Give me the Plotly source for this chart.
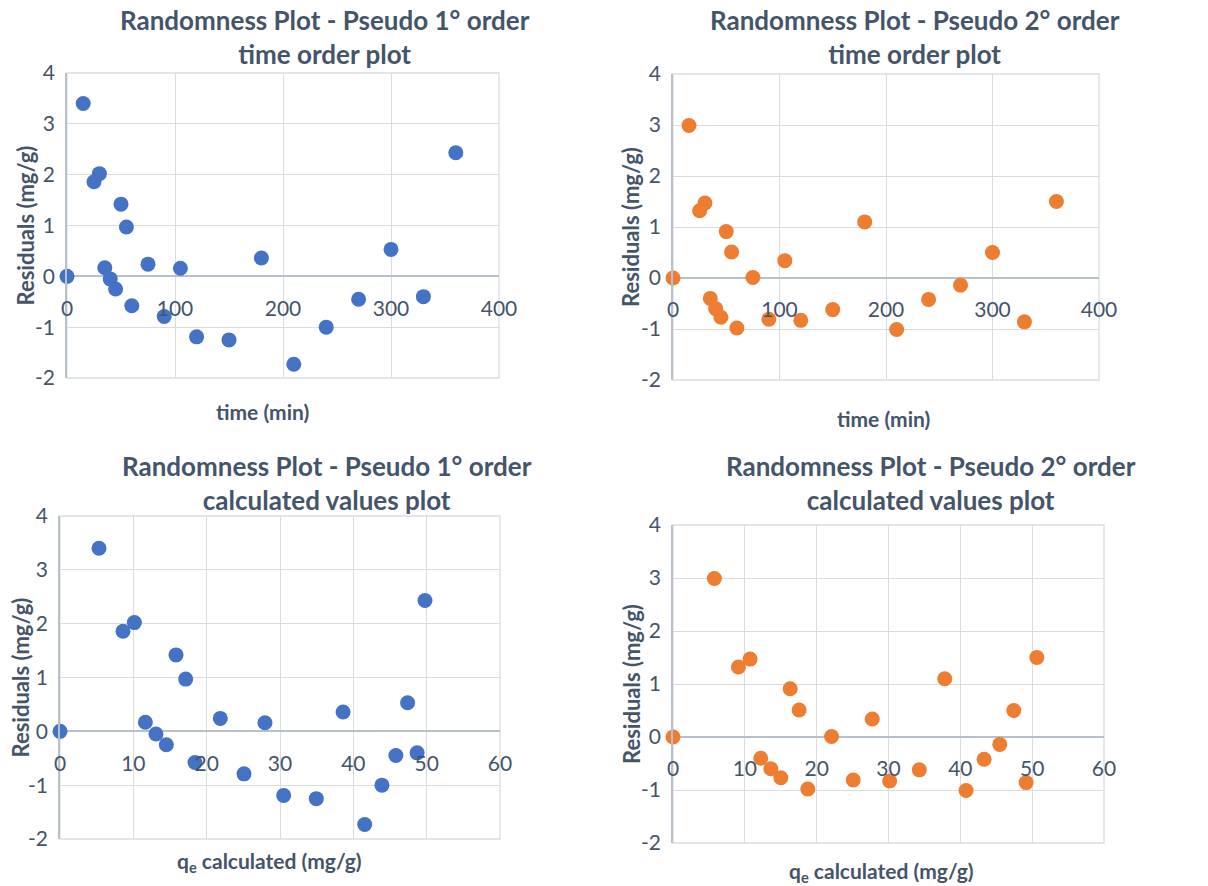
import plotly.graph_objects as go

# Sampling times (min)
time_min = [0, 15, 25, 30, 35, 40, 45, 50, 55, 60, 75, 90, 105, 120, 150,
            180, 210, 240, 270, 300, 330, 360]

# Residuals (mg/g) for each kinetic model
resid_pfo = [0, 3.40, 1.86, 2.02, 0.17, -0.05, -0.25, 1.42, 0.97, -0.58, 0.24,
             -0.79, 0.16, -1.19, -1.25, 0.36, -1.73, -1.00, -0.45, 0.53, -0.40, 2.43]
resid_pso = [0, 2.99, 1.32, 1.47, -0.40, -0.60, -0.77, 0.91, 0.51, -0.98, 0.01,
             -0.81, 0.34, -0.83, -0.62, 1.10, -1.01, -0.42, -0.14, 0.50, -0.86, 1.50]

# Calculated uptake q_e (mg/g) for each model
qcalc_pfo = [0, 5.32, 8.59, 10.14, 11.64, 13.09, 14.50, 15.82, 17.14, 18.41, 21.86,
             25.09, 27.95, 30.50, 34.95, 38.60, 41.55, 43.90, 45.80, 47.40, 48.70, 49.77]
qcalc_pso = [0, 5.76, 9.11, 10.73, 12.22, 13.62, 15.01, 16.31, 17.56, 18.77, 22.07,
             25.09, 27.74, 30.16, 34.29, 37.83, 40.80, 43.31, 45.49, 47.44, 49.16, 50.65]

y_ticks = [-2, -1, 0, 1, 2, 3, 4]
y_tick_text = ["-2", "-1", "0", "1", "2", "3", "4"]
time_ticks = [0, 100, 200, 300, 400]
q_ticks = [0, 10, 20, 30, 40, 50, 60]

titles = [
    "Randomness Plot - Pseudo 1° order<br>time order plot",
    "Randomness Plot - Pseudo 2° order<br>time order plot",
    "Randomness Plot - Pseudo 1° order<br>calculated values plot",
    "Randomness Plot - Pseudo 2° order<br>calculated values plot",
]
x_titles = ["time (min)", "time (min)",
            "q<sub>e</sub> calculated (mg/g)", "q<sub>e</sub> calculated (mg/g)"]
y_title = "Residuals (mg/g)"

BLUE = "#4472C4"
ORANGE = "#ED7D31"
TEXT = "#44546A"
GRID = "#D9DDE3"
AXIS = "#B8C0CC"
FONT = "Lato"

W, H = 1208, 886

# panel rectangles in pixels: (left, top, right, bottom)
panels = [
    (67, 73, 499, 378),
    (673, 74, 1099, 380),
    (60, 516, 500, 839),
    (673, 525, 1104, 843),
]
series = [
    (time_min, resid_pfo, BLUE, [0, 400], time_ticks),
    (time_min, resid_pso, ORANGE, [0, 400], time_ticks),
    (qcalc_pfo, resid_pfo, BLUE, [0, 60], q_ticks),
    (qcalc_pso, resid_pso, ORANGE, [0, 60], q_ticks),
]
title_pos = [(325, 37), (915, 37), (327, 483), (931, 483)]
xtitle_pos = [(262, 412), (883, 419), (269, 862), (881, 872)]
ytitle_x = [25, 630, 20, 631]

fig = go.Figure()
layout = dict(
    width=W, height=H,
    margin=dict(l=0, r=0, t=0, b=0, autoexpand=False),
    paper_bgcolor="white", plot_bgcolor="white",
    showlegend=False,
    font=dict(family=FONT, color=TEXT),
)
annotations = []
shapes = []

for i, ((l, t, r, b), (xs, ys, col, xr, xt)) in enumerate(zip(panels, series)):
    n = "" if i == 0 else str(i + 1)
    xa, ya = "x" + n, "y" + n
    dom_x = [l / W, r / W]
    dom_y = [1 - b / H, 1 - t / H]
    zero_pos = dom_y[0] + (0 - y_ticks[0]) / (y_ticks[-1] - y_ticks[0]) * (dom_y[1] - dom_y[0])

    fig.add_trace(go.Scatter(
        x=xs, y=ys, mode="markers", xaxis=xa, yaxis=ya,
        marker=dict(size=15, color=col, line=dict(width=0)),
        cliponaxis=False,
    ))

    layout["xaxis" + n] = dict(
        domain=dom_x, range=xr, tickvals=xt, anchor="free", position=zero_pos,
        automargin=False,
        showgrid=True, gridcolor=GRID, gridwidth=1.3,
        zeroline=False, showline=False,
        ticks="outside", ticklen=13, tickcolor="rgba(0,0,0,0)",
        tickfont=dict(family=FONT, size=21, color=TEXT),
        fixedrange=True,
    )
    layout["yaxis" + n] = dict(
        domain=dom_y, range=[y_ticks[0], y_ticks[-1]],
        tickvals=y_ticks, ticktext=y_tick_text,
        anchor=xa, automargin=False,
        showgrid=True, gridcolor=GRID, gridwidth=1.3,
        zeroline=True, zerolinecolor=AXIS, zerolinewidth=1.6,
        showline=True, linecolor=AXIS, linewidth=1.6,
        ticks="outside", ticklen=6, tickcolor="rgba(0,0,0,0)",
        tickfont=dict(family=FONT, size=21, color=TEXT),
        fixedrange=True,
    )
    # frame on the top, right and bottom edges of the plot area
    shapes.append(dict(type="rect", xref=xa + " domain", yref=ya + " domain",
                       x0=0, x1=1, y0=0, y1=1, line=dict(color=GRID, width=1.3),
                       layer="below"))

    tx, ty = title_pos[i]
    annotations.append(dict(
        text="<b>" + titles[i] + "</b>", xref="paper", yref="paper",
        x=tx / W, y=1 - ty / H, xanchor="center", yanchor="middle",
        showarrow=False, align="center",
        font=dict(family=FONT, size=26, color=TEXT),
    ))
    ax_, ay_ = xtitle_pos[i]
    annotations.append(dict(
        text="<b>" + x_titles[i] + "</b>", xref="paper", yref="paper",
        x=ax_ / W, y=1 - ay_ / H, xanchor="center", yanchor="middle",
        showarrow=False, font=dict(family=FONT, size=21, color=TEXT),
    ))
    annotations.append(dict(
        text="<b>" + y_title + "</b>", xref="paper", yref=ya + " domain",
        x=ytitle_x[i] / W, y=0.5, xanchor="center", yanchor="middle",
        textangle=-90, showarrow=False,
        font=dict(family=FONT, size=22, color=TEXT),
    ))

layout["annotations"] = annotations
layout["shapes"] = shapes
fig.update_layout(**layout)
fig.write_html("out.html")
